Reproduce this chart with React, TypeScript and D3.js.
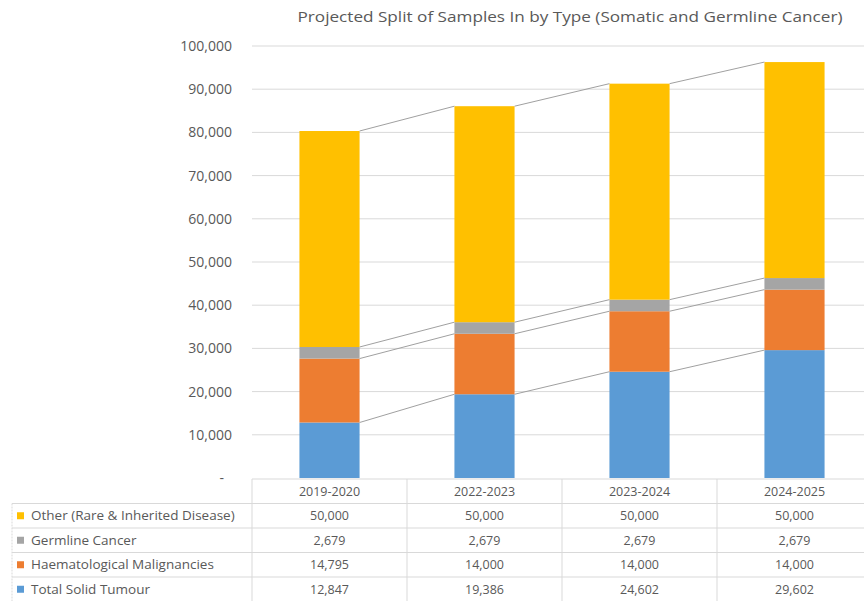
import React from "react";
import * as d3 from "d3";

const categories = ["2019-2020", "2022-2023", "2023-2024", "2024-2025"];
const seriesNames = ["Total Solid Tumour", "Haematological Malignancies", "Germline Cancer", "Other (Rare & Inherited Disease)"];
const solidTumour = [12847, 19386, 24602, 29602];
const haematological = [14795, 14000, 14000, 14000];
const germline = [2679, 2679, 2679, 2679];
const other = [50000, 50000, 50000, 50000];
const yTicks = [0, 10000, 20000, 30000, 40000, 50000, 60000, 70000, 80000, 90000, 100000];
const colors = ["#5b9bd5", "#ed7d31", "#a5a5a5", "#ffc000"];
const title = "Projected Split of Samples In by Type (Somatic and Germline Cancer)";

const W = 864, H = 601;
const FONT = "'Open Sans', 'Noto Sans', sans-serif";
const TXT = "#595959";
const GRID = "#d9d9d9";

export default function App() {
  const seriesValues = [solidTumour, haematological, germline, other];
  const rows = categories.map((c, i) => {
    const r: any = { cat: c };
    seriesNames.forEach((s, k) => (r[s] = seriesValues[k][i]));
    return r;
  });
  const stack = d3.stack().keys(seriesNames)(rows);

  const plotLeft = 252, plotRight = 252 + 155 * 4;
  const x = d3.scaleBand().domain(categories).range([plotLeft, plotRight]).paddingInner(0.612).paddingOuter(0.306);
  const y = d3.scaleLinear().domain([0, 100000]).range([478, 46]);
  const bw = x.bandwidth();
  const fmt = d3.format(",");

  const tableTop = 479;
  const rowH = 24.5;
  const colLeft = (i: number) => plotLeft + 155 * i;
  const legendOrder = [3, 2, 1, 0];

  return (
    <svg width={W} height={H} style={{ position: "absolute", left: 0, top: 0, background: "#fff" }} fontFamily={FONT}>
      <rect x={0} y={0} width={W} height={H} fill="#fff" />
      <text x={570} y={22} textAnchor="middle" fontSize={14.5} fill={TXT} textLength={545} lengthAdjust="spacingAndGlyphs">{title}</text>
      {yTicks.map((t) => (
        <g key={t}>
          {t > 0 && <line x1={plotLeft} x2={W} y1={y(t)} y2={y(t)} stroke={GRID} strokeWidth={1} />}
          <text x={t === 0 ? 224 : 232} y={y(t)} dy="0.35em" textAnchor="end" fontSize={14} fill={TXT}>
            {t === 0 ? "-" : fmt(t)}
          </text>
        </g>
      ))}
      {stack.map((s, k) => (
        <g key={s.key}>
          {s.map((d, i) => (
            <rect key={i} x={x(categories[i])!} width={bw} y={y(d[1])} height={y(d[0]) - y(d[1])} fill={colors[k]} />
          ))}
          {s.slice(0, -1).map((d, i) => (
            <line key={"l" + i}
              x1={x(categories[i])! + bw} y1={y(d[1])}
              x2={x(categories[i + 1])!} y2={y(s[i + 1][1])}
              stroke="#a0a0a0" strokeWidth={1} />
          ))}
        </g>
      ))}
      {/* data table */}
      <line x1={plotLeft} x2={W} y1={tableTop} y2={tableTop} stroke={GRID} />
      {[1, 2, 3, 4].map((r) => (
        <line key={r} x1={12} x2={W} y1={tableTop + rowH * r} y2={tableTop + rowH * r} stroke={GRID} />
      ))}
      {[0, 1, 2, 3, 4].map((c) => (
        <line key={c} x1={colLeft(c)} x2={colLeft(c)} y1={tableTop} y2={H} stroke={GRID} />
      ))}
      <line x1={12} x2={12} y1={tableTop + rowH} y2={H} stroke={GRID} strokeDasharray="2,1" />
      {categories.map((c, i) => (
        <text key={c} x={x(c)! + bw / 2} y={tableTop + rowH / 2} dy="0.35em" textAnchor="middle" fontSize={12.5} fill={TXT}>{c}</text>
      ))}
      {legendOrder.map((k, r) => {
        const cy = tableTop + rowH * (r + 1) + rowH / 2;
        return (
          <g key={k}>
            <rect x={17} y={cy - 3.5} width={7} height={7} fill={colors[k]} />
            <text x={31} y={cy} dy="0.35em" fontSize={13.5} fill={TXT}>{seriesNames[k]}</text>
            {categories.map((c, i) => (
              <text key={c} x={x(c)! + bw / 2} y={cy} dy="0.35em" textAnchor="middle" fontSize={12.5} fill={TXT}>
                {fmt(seriesValues[k][i])}
              </text>
            ))}
          </g>
        );
      })}
    </svg>
  );
}
